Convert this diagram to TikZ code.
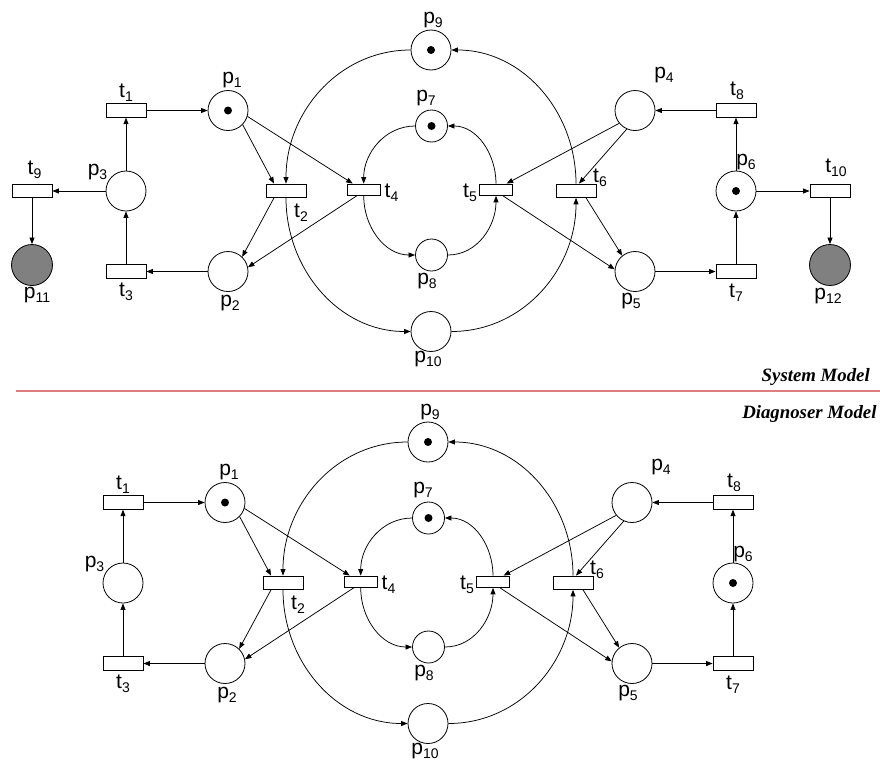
\documentclass[tikz,border=0pt]{standalone}
\usepackage{fontspec}
\setmainfont{Liberation Sans}
\newfontfamily\tnrfont{Liberation Serif}
\usetikzlibrary{arrows.meta}
\definecolor{sepred}{RGB}{222,125,125}
\newcommand\sublab[2]{#1\raisebox{-4pt}{\fontsize{14}{14}\selectfont #2}}
\tikzset{
  place/.style={circle,draw,line width=0.8pt,minimum size=40pt,inner sep=0pt},
  smallplace/.style={place,minimum size=32pt},
  failplace/.style={place,fill=gray,minimum size=41pt},
  marked/.style={path picture={\fill[black] (path picture bounding box.center) circle (4pt);}},
  trans/.style={rectangle,draw,line width=0.8pt,minimum width=40pt,minimum height=13.5pt,inner sep=0pt},
  smalltrans/.style={trans,minimum width=33pt,minimum height=11.5pt},
  lbl/.style={font=\fontsize{21}{21}\selectfont,inner sep=0pt,anchor=center},
  arc/.style={line width=0.75pt,-{Triangle[length=6.5pt,width=5pt]}},
  modeltext/.style={anchor=base east,inner sep=0pt,font=\tnrfont\bfseries\itshape\fontsize{18.8}{20}\selectfont}
}
\newcommand\drawnet[1]{%
  % places
  \node[place,marked] (#1p1) at (228,110.5) {};
  \node[place] (#1p2) at (228,271.5) {};
  \node[place] (#1p3) at (126,191) {};
  \node[place] (#1p4) at (635,110.5) {};
  \node[place] (#1p5) at (635,271.5) {};
  \node[place,marked] (#1p6) at (736,191) {};
  \node[smallplace,marked] (#1p7) at (431.5,126) {};
  \node[smallplace] (#1p8) at (431.5,255) {};
  \node[place,marked] (#1p9) at (431,50) {};
  \node[place] (#1p10) at (431,331.5) {};
  % transitions
  \node[trans] (#1t1) at (126,110.5) {};
  \node[trans] (#1t2) at (286,190.7) {};
  \node[trans] (#1t3) at (126,271.5) {};
  \node[smalltrans] (#1t4) at (363.7,189.7) {};
  \node[smalltrans] (#1t5) at (496,189.7) {};
  \node[trans] (#1t6) at (576,190.7) {};
  \node[trans] (#1t7) at (736,271.5) {};
  \node[trans] (#1t8) at (736,110.5) {};
  % labels
  \node[lbl] (#1lp1) at (232,80) {\sublab{p}{1}};
  \node[lbl] (#1lp2) at (230,303) {\sublab{p}{2}};
  \node[lbl] (#1lp3) at (97.5,172) {\sublab{p}{3}};
  \node[lbl] (#1lp4) at (664,75) {\sublab{p}{4}};
  \node[lbl] (#1lp5) at (631,301) {\sublab{p}{5}};
  \node[lbl] (#1lp6) at (746,162) {\sublab{p}{6}};
  \node[lbl] (#1lp7) at (426,98) {\sublab{p}{7}};
  \node[lbl] (#1lp8) at (427,281) {\sublab{p}{8}};
  \node[lbl] (#1lp9) at (433,20) {\sublab{p}{9}};
  \node[lbl] (#1lp10) at (428,359) {\sublab{p}{10}};
  \node[lbl] (#1lt1) at (126,93) {\sublab{t}{1}};
  \node[lbl] (#1lt2) at (301,213) {\sublab{t}{2}};
  \node[lbl] (#1lt3) at (126,292) {\sublab{t}{3}};
  \node[lbl] (#1lt4) at (391.5,193) {\sublab{t}{4}};
  \node[lbl] (#1lt5) at (470,193) {\sublab{t}{5}};
  \node[lbl] (#1lt6) at (600,178) {\sublab{t}{6}};
  \node[lbl] (#1lt7) at (736,293) {\sublab{t}{7}};
  \node[lbl] (#1lt8) at (737,91) {\sublab{t}{8}};
  % straight arcs
  \draw[arc] (#1t1) -- (#1p1);
  \draw[arc] (#1p1.-44) -- ([xshift=-12pt]#1t2.north);
  \draw[arc] (#1p1.-17) -- ([xshift=-11pt]#1t4.north);
  \draw[arc] ([xshift=-12pt]#1t2.south) -- (#1p2.46);
  \draw[arc] ([xshift=-7pt]#1t4.south) -- (#1p2.12);
  \draw[arc] (#1p2) -- (#1t3);
  \draw[arc] (#1t3) -- (#1p3);
  \draw[arc] (#1p3) -- (#1t1);
  \draw[arc] (#1p4.-141) -- ([xshift=10.7pt]#1t5.north);
  \draw[arc] (#1p4.-114) -- ([xshift=3pt]#1t6.north);
  \draw[arc] ([xshift=7pt]#1t5.south) -- (#1p5.174);
  \draw[arc] ([xshift=10pt]#1t6.south) -- (#1p5.129);
  \draw[arc] (#1p5) -- (#1t7);
  \draw[arc] (#1t7) -- (#1p6);
  \draw[arc] (#1p6) -- (#1t8);
  \draw[arc] (#1t8) -- (#1p4);
  % outer cycle
  \draw[arc] (#1p9.west) to[out=180,in=90] (#1t2.north);
  \draw[arc] (#1t2.south) to[out=-90,in=180] (#1p10.west);
  \draw[arc] (#1p10.east) to[out=0,in=-90] (#1t6.south);
  \draw[arc] (#1t6.north) to[out=90,in=0] (#1p9.east);
  % inner cycle
  \draw[arc] (#1p7.west) to[out=180,in=90] (#1t4.north);
  \draw[arc] (#1t4.south) to[out=-90,in=180] (#1p8.west);
  \draw[arc] (#1p8.east) to[out=0,in=-90] (#1t5.south);
  \draw[arc] (#1t5.north) to[out=90,in=0] (#1p7.east);
}
\begin{document}
\begin{tikzpicture}
\begin{scope}[x=1pt,y=-1pt]
  \useasboundingbox (0,0) rectangle (880,763);
  \drawnet{A}
  % extra fault part of the system model
  \node[trans] (At9) at (32,191) {};
  \node[trans] (At10) at (830,191) {};
  \node[failplace] (Ap11) at (32,265) {};
  \node[failplace] (Ap12) at (830,265) {};
  \node[lbl] (Alt9) at (34.5,170) {\sublab{t}{9}};
  \node[lbl] (Alt10) at (836,168) {\sublab{t}{10}};
  \node[lbl] (Alp11) at (37,295) {\sublab{p}{11}};
  \node[lbl] (Alp12) at (828,296) {\sublab{p}{12}};
  \draw[arc] (Ap3) -- (At9);
  \draw[arc] (At9) -- (Ap11);
  \draw[arc] (Ap6) -- (At10);
  \draw[arc] (At10) -- (Ap12);
  % separator
  \coordinate (sepL) at (16,390.7);
  \coordinate (sepR) at (880,390.7);
  \draw[sepred,line width=1.8pt] (sepL) -- (sepR);
  \node[modeltext] (sysmodel) at (870,381) {System Model};
  \node[modeltext] (diagmodel) at (876.7,418) {Diagnoser Model};
\end{scope}
\begin{scope}[x=1pt,y=-1pt,xshift=-3pt,yshift=-392pt]
  \drawnet{B}
\end{scope}
\end{tikzpicture}
\end{document}
